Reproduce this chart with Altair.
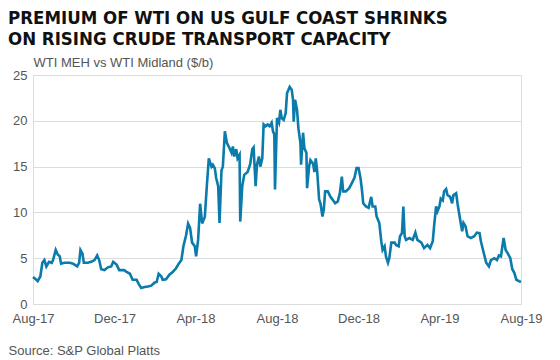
import altair as alt
import pandas as pd

dates = [
    "2017-08-01", "2017-08-06", "2017-08-08", "2017-08-12", "2017-08-15", "2017-08-18", "2017-08-21",
    "2017-08-25", "2017-08-29", "2017-08-31", "2017-09-04", "2017-09-07", "2017-09-10", "2017-09-12",
    "2017-09-17", "2017-09-25", "2017-09-30", "2017-10-06", "2017-10-09", "2017-10-11", "2017-10-14",
    "2017-10-16", "2017-10-22", "2017-10-27", "2017-11-01", "2017-11-05", "2017-11-08", "2017-11-11",
    "2017-11-16", "2017-11-21", "2017-11-26", "2017-11-29", "2017-12-04", "2017-12-08", "2017-12-11",
    "2017-12-15", "2017-12-19", "2017-12-24", "2017-12-28", "2018-01-03", "2018-01-06", "2018-01-10",
    "2018-01-15", "2018-01-20", "2018-01-25", "2018-01-30", "2018-02-02", "2018-02-05", "2018-02-09",
    "2018-02-11", "2018-02-16", "2018-02-21", "2018-02-26", "2018-03-03", "2018-03-07", "2018-03-11",
    "2018-03-14", "2018-03-18", "2018-03-21", "2018-03-24", "2018-03-27", "2018-03-31", "2018-04-02",
    "2018-04-05", "2018-04-08", "2018-04-11", "2018-04-15", "2018-04-18", "2018-04-21", "2018-04-25",
    "2018-04-27", "2018-04-30", "2018-05-02", "2018-05-05", "2018-05-07", "2018-05-10", "2018-05-12",
    "2018-05-15", "2018-05-18", "2018-05-22", "2018-05-25", "2018-05-27", "2018-05-29", "2018-06-01",
    "2018-06-03", "2018-06-06", "2018-06-07", "2018-06-10", "2018-06-13", "2018-06-18", "2018-06-22",
    "2018-06-25", "2018-06-27", "2018-06-30", "2018-07-02", "2018-07-05", "2018-07-07", "2018-07-10",
    "2018-07-12", "2018-07-15", "2018-07-18", "2018-07-21", "2018-07-24", "2018-07-26", "2018-07-28",
    "2018-07-29", "2018-08-01", "2018-08-04", "2018-08-06", "2018-08-08", "2018-08-11", "2018-08-14",
    "2018-08-16", "2018-08-20", "2018-08-23", "2018-08-25", "2018-08-26", "2018-08-28", "2018-08-31",
    "2018-09-02", "2018-09-05", "2018-09-06", "2018-09-09", "2018-09-11", "2018-09-14", "2018-09-15",
    "2018-09-18", "2018-09-20", "2018-09-24", "2018-09-26", "2018-09-28", "2018-09-30", "2018-10-03",
    "2018-10-05", "2018-10-08", "2018-10-10", "2018-10-12", "2018-10-16", "2018-10-20", "2018-10-23",
    "2018-10-27", "2018-10-31", "2018-11-03", "2018-11-06", "2018-11-08", "2018-11-12", "2018-11-17",
    "2018-11-21", "2018-11-25", "2018-11-28", "2018-12-01", "2018-12-04", "2018-12-06", "2018-12-08",
    "2018-12-12", "2018-12-16", "2018-12-20", "2018-12-22", "2018-12-26", "2018-12-28", "2019-01-01",
    "2019-01-04", "2019-01-06", "2019-01-09", "2019-01-11", "2019-01-14", "2019-01-16", "2019-01-19",
    "2019-01-24", "2019-01-26", "2019-01-30", "2019-02-01", "2019-02-04", "2019-02-06", "2019-02-08",
    "2019-02-10", "2019-02-15", "2019-02-20", "2019-02-24", "2019-02-27", "2019-03-05", "2019-03-09",
    "2019-03-14", "2019-03-18", "2019-03-22", "2019-03-24", "2019-03-27", "2019-03-29", "2019-04-01",
    "2019-04-03", "2019-04-06", "2019-04-08", "2019-04-11", "2019-04-13", "2019-04-17", "2019-04-20",
    "2019-04-22", "2019-04-26", "2019-04-28", "2019-04-30", "2019-05-02", "2019-05-05", "2019-05-07",
    "2019-05-10", "2019-05-13", "2019-05-18", "2019-05-23", "2019-05-27", "2019-05-31", "2019-06-02",
    "2019-06-06", "2019-06-10", "2019-06-14", "2019-06-17", "2019-06-22", "2019-06-26", "2019-06-29",
    "2019-07-02", "2019-07-06", "2019-07-09", "2019-07-12", "2019-07-16", "2019-07-19", "2019-07-22",
    "2019-07-25", "2019-07-29", "2019-08-01",
]

values = [
    2.95, 2.65, 2.5, 3.0, 4.5, 4.8, 4.1,
    4.6, 4.5, 4.8, 5.9, 5.4, 5.2, 4.4,
    4.5, 4.5, 4.4, 4.1, 4.5, 5.9, 5.5,
    4.5, 4.5, 4.6, 4.8, 5.3, 4.8, 3.8,
    3.7, 4.0, 4.1, 4.6, 4.3, 3.7, 3.7,
    3.7, 3.5, 3.3, 2.65, 2.65, 2.2, 1.75,
    1.85, 1.9, 2.0, 2.35, 2.4, 3.3, 3.0,
    2.65, 2.7, 3.2, 3.5, 3.9, 4.4, 4.8,
    6.3, 7.5, 8.77, 8.3, 6.7, 6.3, 5.2,
    7.0, 10.95, 8.8, 9.5, 12.85, 15.9, 15.0,
    15.2, 14.8, 13.75, 12.85, 8.85, 14.6, 15.0,
    18.85, 17.6, 17.0, 16.5, 17.2, 16.1, 16.9,
    15.9, 16.3, 9.0, 12.85, 14.1, 14.4, 15.3,
    16.9, 17.1, 12.85, 15.2, 16.1, 15.0, 15.9,
    19.6, 19.4, 19.6, 19.4, 19.8, 18.85, 18.5,
    12.5, 20.3, 19.8, 21.2, 20.3, 20.1, 20.85,
    23.0, 23.7, 23.4, 22.3, 19.9, 22.3, 21.2,
    19.2, 17.6, 15.2, 18.7, 17.0, 16.5, 12.65,
    15.0, 15.7, 15.3, 14.4, 15.9, 14.6, 11.4,
    11.0, 9.55, 10.3, 12.3, 12.3, 11.7, 11.4,
    11.0, 11.2, 12.1, 13.9, 12.3, 12.3, 12.65,
    13.2, 13.8, 14.85, 14.85, 13.7, 12.5, 11.0,
    10.65, 10.5, 11.7, 10.65, 10.65, 9.55, 8.85,
    6.85, 5.9, 6.3, 5.2, 4.5, 5.0, 6.7,
    6.7, 6.45, 6.3, 7.4, 7.75, 10.65, 7.4,
    7.0, 7.2, 7.0, 7.8, 7.0, 6.7, 6.1,
    6.45, 6.1, 6.85, 8.5, 10.65, 10.1, 10.65,
    11.5, 11.3, 12.3, 12.55, 11.9, 11.7, 11.0,
    11.9, 12.1, 11.0, 10.1, 9.2, 7.95, 8.85,
    8.5, 7.4, 7.2, 7.4, 7.8, 7.75, 6.85,
    5.65, 4.5, 4.1, 4.8, 5.0, 4.8, 5.3,
    5.2, 7.2, 5.9, 5.55, 5.0, 3.8, 3.4,
    2.65, 2.5, 2.4,
]

y_ticks = [0, 5, 10, 15, 20, 25]
title_lines = ["PREMIUM OF WTI ON US GULF COAST SHRINKS", "ON RISING CRUDE TRANSPORT CAPACITY"]
unit_label = "WTI MEH vs WTI Midland ($/b)"
source_label = "Source: S&P Global Platts"

df = pd.DataFrame({"date": dates, "value": values})

FONT = "Liberation Sans, Arial, sans-serif"
TITLE_FONT = "DejaVu Sans Condensed, sans-serif"
GRAY = "#555555"

x_ticks = [alt.DateTime(year=y, month=m, date=1) for (y, m) in
           [(2017, 8), (2017, 12), (2018, 4), (2018, 8), (2018, 12), (2019, 4), (2019, 8)]]

chart = alt.Chart(df).mark_line(color="#0A7BAA", strokeWidth=2.6).encode(
    x=alt.X(
        "date:T",
        scale=alt.Scale(domain=[alt.DateTime(year=2017, month=8, date=1),
                                alt.DateTime(year=2019, month=8, date=1)]),
        axis=alt.Axis(
            values=x_ticks, format="%b-%y", grid=False, domain=False, ticks=False,
            labelFont=FONT, labelFontSize=13, labelColor=GRAY, labelPadding=8,
            labelOverlap=False, labelFlush=False,
            title=source_label, titleFont=FONT, titleFontSize=13, titleFontWeight="normal",
            titleColor=GRAY, titleAnchor="start", titleAlign="left", titleX=-25, titleY=50,
            titleBaseline="alphabetic",
        ),
    ),
    y=alt.Y(
        "value:Q",
        scale=alt.Scale(domain=[0, 25]),
        axis=alt.Axis(
            values=y_ticks, grid=True, gridColor="#dcdcdc", gridWidth=1, domain=False, ticks=False,
            labelFont=FONT, labelFontSize=13, labelColor=GRAY, labelPadding=6,
            title=unit_label, titleFont=FONT, titleFontSize=13, titleFontWeight="normal",
            titleColor=GRAY, titleAngle=0, titleAlign="left", titleBaseline="alphabetic",
            titleX=0, titleY=-9,
        ),
    ),
).properties(
    width=488,
    height=229,
    autosize=alt.AutoSizeParams(type="none"),
    padding={"left": 25, "top": 67, "right": 30, "bottom": 56},
    title=alt.TitleParams(
        text=title_lines, anchor="start", frame="group", dx=-25, offset=8,
        font=TITLE_FONT, fontSize=18.5, fontWeight="bold", color="#111111", lineHeight=21,
    ),
).configure_view(stroke=None).configure(background="white")

chart.save("out.html", embed_options={"renderer": "svg", "actions": False})
